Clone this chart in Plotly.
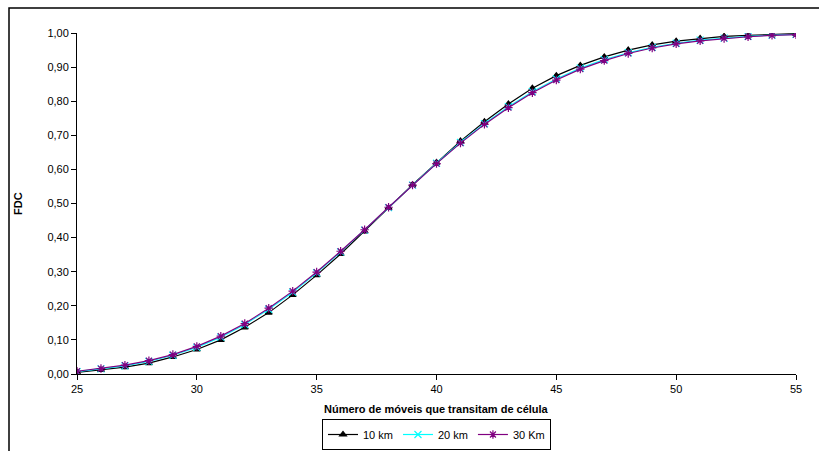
import plotly.graph_objects as go

# Number of mobiles crossing the cell
moveis = list(range(25, 56))

# Cumulative distribution (FDC) for each cell radius
fdc_10km = [0.005, 0.012, 0.020, 0.032, 0.050, 0.072, 0.100, 0.137, 0.180, 0.232,
            0.290, 0.352, 0.418, 0.487, 0.555, 0.620, 0.683, 0.740, 0.792, 0.838,
            0.875, 0.905, 0.930, 0.950, 0.965, 0.976, 0.984, 0.990, 0.993, 0.996, 0.998]
fdc_20km = [0.007, 0.015, 0.024, 0.037, 0.055, 0.078, 0.108, 0.145, 0.190, 0.240,
            0.297, 0.358, 0.422, 0.488, 0.554, 0.618, 0.679, 0.734, 0.784, 0.828,
            0.865, 0.897, 0.922, 0.942, 0.958, 0.970, 0.979, 0.985, 0.990, 0.994, 0.996]
fdc_30km = [0.008, 0.016, 0.026, 0.039, 0.057, 0.081, 0.111, 0.148, 0.193, 0.243,
            0.299, 0.360, 0.423, 0.489, 0.554, 0.617, 0.677, 0.732, 0.781, 0.825,
            0.862, 0.894, 0.919, 0.940, 0.956, 0.968, 0.977, 0.984, 0.989, 0.993, 0.995]

series = [
    ("10 km", fdc_10km, "#000000", "triangle-up", 6),
    ("20 km", fdc_20km, "#00FFFF", "x-thin-open", 7),
    ("30 Km", fdc_30km, "#800080", "asterisk-open", 7),
]

W, H = 819, 451
L, R, T, B = 77, 23, 33, 77
pw, ph = W - L - R, H - T - B

fig = go.Figure()
for name, ys, color, sym, size in series:
    fig.add_trace(go.Scatter(
        x=moveis, y=ys, name=name, mode="lines+markers",
        line=dict(color=color, width=1.2),
        marker=dict(symbol=sym, size=size, color=color,
                    line=dict(color=color, width=1.2)),
    ))

font = dict(family="Liberation Sans, Arial, sans-serif", size=11, color="#000000")

fig.update_layout(
    width=W, height=H,
    margin=dict(l=L, r=R, t=T, b=B, autoexpand=False),
    paper_bgcolor="white", plot_bgcolor="white",
    separators=",.",
    font=font,
    showlegend=True,
    legend=dict(orientation="h", x=0.5, xanchor="center",
                y=(T + ph - 450) / ph, yanchor="bottom",
                bordercolor="#000000", borderwidth=1,
                font=dict(family=font["family"], size=11, color="#000000"),
                itemwidth=30, tracegroupgap=0),
    xaxis=dict(range=[25, 55], tickmode="linear", tick0=25, dtick=5,
               showgrid=False, zeroline=False, showline=True,
               linecolor="#000000", linewidth=1,
               ticks="outside", ticklen=5, tickcolor="#000000",
               tickfont=dict(family=font["family"], size=11, color="#000000")),
    yaxis=dict(range=[0, 1], tickmode="linear", tick0=0, dtick=0.1,
               tickformat=".2f",
               showgrid=False, zeroline=False, showline=True,
               linecolor="#000000", linewidth=1,
               ticks="outside", ticklen=5, tickcolor="#000000",
               tickfont=dict(family=font["family"], size=11, color="#000000")),
    annotations=[
        dict(text="<b>Número de móveis que transitam de célula</b>",
             xref="paper", yref="paper", x=0.5, y=(T + ph - 409) / ph,
             xanchor="center", yanchor="middle", showarrow=False,
             font=dict(family=font["family"], size=11, color="#000000")),
        dict(text="<b>FDC</b>", textangle=-90,
             xref="paper", yref="paper", x=(18 - L) / pw, y=(T + ph - 204) / ph,
             xanchor="center", yanchor="middle", showarrow=False,
             font=dict(family=font["family"], size=11, color="#000000")),
    ],
    shapes=[
        dict(type="rect", xref="paper", yref="paper",
             x0=(9 - L) / pw, x1=(W + 10 - L) / pw,
             y0=(T + ph - (H + 10)) / ph, y1=(T + ph - 8) / ph,
             line=dict(color="#000000", width=1.5), fillcolor="rgba(0,0,0,0)"),
    ],
)

fig.write_html("out.html")
